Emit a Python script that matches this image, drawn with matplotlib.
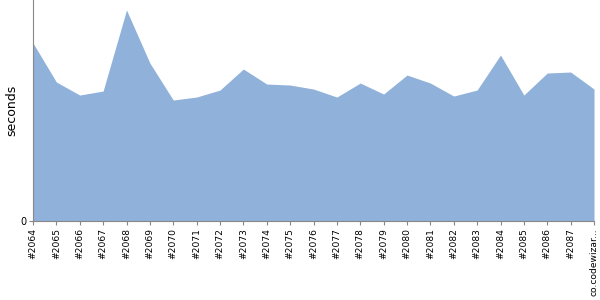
import numpy as np
import matplotlib.pyplot as plt

# build labels and durations (arbitrary units)
builds = ["#2064", "#2065", "#2066", "#2067", "#2068", "#2069", "#2070", "#2071",
          "#2072", "#2073", "#2074", "#2075", "#2076", "#2077", "#2078", "#2079",
          "#2080", "#2081", "#2082", "#2083", "#2084", "#2085", "#2086", "#2087",
          "co.codewizar..."]
seconds = [178, 139, 126, 130, 211, 158, 121, 124, 131, 152, 137, 136, 132, 124,
           138, 127, 146, 138, 125, 131, 166, 126, 148, 149, 132]

fig = plt.figure(figsize=(6, 3), dpi=100)
ax = fig.add_axes([0.055, 0.263, 0.935, 0.737])

x = np.arange(len(builds))
ax.fill_between(x, 0, seconds, color='#8fb1da', linewidth=0)

ax.set_xlim(0, len(builds) - 1)
ax.set_ylim(0, 221)
ax.set_xticks(x)
ax.set_xticklabels(builds, rotation=90, fontsize=6.6)
ax.set_yticks([0])
ax.set_yticklabels(['0'], fontsize=7)
ax.set_ylabel('seconds', fontsize=9)
ax.yaxis.set_label_coords(-0.027, 0.5)

for side in ['top', 'right']:
    ax.spines[side].set_visible(False)
for side in ['left', 'bottom']:
    ax.spines[side].set_color('#888888')
ax.tick_params(axis='both', colors='#888888', length=3, pad=2, labelcolor='black')

fig.savefig('out.png')
